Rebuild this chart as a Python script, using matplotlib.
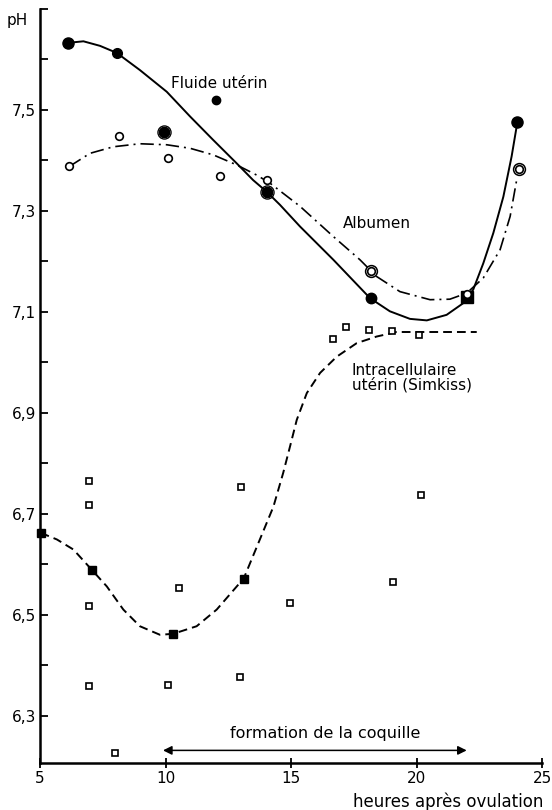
import numpy as np
import matplotlib
matplotlib.use("Agg")
import matplotlib.pyplot as plt

# Fluide utérin (filled circles)
fluide_x = [6.13, 8.06, 9.95, 12.01, 14.03, 18.17, 24.02]
fluide_y = [7.633, 7.613, 7.457, 7.520, 7.338, 7.127, 7.476]
fluide_size = [8, 7, 7.5, 6, 7.5, 7.5, 8]
fluide_ring_x = [9.95, 14.03]
fluide_ring_y = [7.457, 7.338]
fluide_sq_x = [22.02]
fluide_sq_y = [7.130]

# Albumen (open circles)
albumen_x = [6.17, 8.16, 10.09, 12.17, 14.04, 18.17, 22.02, 24.10]
albumen_y = [7.388, 7.449, 7.404, 7.370, 7.361, 7.180, 7.136, 7.383]
albumen_ring_x = [18.17, 24.10]
albumen_ring_y = [7.180, 7.383]

# Intracellulaire utérin (Simkiss)
moyenne_x = [5.03, 7.06, 10.31, 13.13]
moyenne_y = [6.662, 6.589, 6.462, 6.571]
simkiss_x = [6.96, 6.96, 6.96, 6.96, 7.99, 10.09, 10.54, 12.97, 13.0,
             14.97, 16.66, 17.19, 18.10, 19.02, 19.05, 20.09, 20.19]
simkiss_y = [6.764, 6.718, 6.518, 6.358, 6.226, 6.360, 6.553, 6.376, 6.753,
             6.523, 7.047, 7.070, 7.063, 7.061, 6.565, 7.054, 6.737]

# hand-drawn curves
curve_fluide_x = [6.13, 6.73, 7.39, 8.06, 8.98, 10.05, 10.98, 11.89, 12.84, 13.49,
                  14.03, 14.56, 15.36, 16.69, 18.15, 18.94, 19.74, 20.41, 21.20,
                  21.86, 22.26, 22.66, 23.06, 23.46, 23.79, 24.02]
curve_fluide_y = [7.633, 7.636, 7.627, 7.613, 7.579, 7.536, 7.487, 7.441, 7.394, 7.361,
                  7.338, 7.312, 7.269, 7.203, 7.127, 7.101, 7.086, 7.083, 7.094,
                  7.117, 7.144, 7.196, 7.256, 7.328, 7.408, 7.476]
curve_albumen_x = [6.17, 6.99, 7.92, 8.98, 10.05, 10.98, 11.90, 12.84, 13.63, 14.16,
                   15.36, 16.69, 17.75, 18.41, 19.34, 20.54, 21.33, 22.0, 22.66,
                   23.33, 23.73, 23.99]
curve_albumen_y = [7.388, 7.414, 7.427, 7.433, 7.431, 7.424, 7.411, 7.391, 7.371, 7.355,
                   7.309, 7.249, 7.203, 7.170, 7.140, 7.124, 7.125, 7.137, 7.167,
                   7.223, 7.289, 7.361]
curve_simkiss_x = [5.03, 5.67, 6.33, 7.06, 7.66, 8.32, 8.98, 9.78, 10.31, 11.24, 12.04,
                   13.12, 13.76, 14.30, 14.69, 14.96, 15.23, 15.63, 16.16, 16.82,
                   17.62, 18.41, 19.21, 22.40]
curve_simkiss_y = [6.662, 6.649, 6.629, 6.589, 6.556, 6.510, 6.477, 6.460, 6.462, 6.477,
                   6.510, 6.572, 6.649, 6.714, 6.781, 6.833, 6.886, 6.939, 6.979,
                   7.011, 7.038, 7.051, 7.060, 7.060]

arrow_x = [9.9, 22.0]
arrow_y = 6.231

x_ticks = [5, 10, 15, 20, 25]
y_major = [6.3, 6.5, 6.7, 6.9, 7.1, 7.3, 7.5]
y_minor = [6.4, 6.6, 6.8, 7.0, 7.2, 7.4, 7.6, 7.7]

fig = plt.figure(figsize=(5.52, 8.10), dpi=100)
ax = fig.add_axes([40 / 552, 47 / 810, 502 / 552, 754 / 810])
fs = 11

ax.plot(curve_fluide_x, curve_fluide_y, color="black", lw=1.4,
        solid_joinstyle="round")
ax.plot(curve_albumen_x, curve_albumen_y, color="black", lw=1.2,
        dashes=(8, 3, 1.2, 3))
ax.plot(curve_simkiss_x, curve_simkiss_y, color="black", lw=1.4,
        dashes=(4.5, 2.6))

for x, y, s in zip(fluide_x, fluide_y, fluide_size):
    ax.plot(x, y, "o", color="black", ms=s, zorder=4)
ax.plot(fluide_ring_x, fluide_ring_y, "o", mfc="none", mec="black",
        ms=9.5, mew=0.9, zorder=4)
ax.plot(fluide_sq_x, fluide_sq_y, "s", color="black", ms=9, zorder=4)

ax.plot(albumen_x, albumen_y, "o", mfc="white", mec="black",
        ms=5.5, mew=1.2, zorder=5)
ax.plot(albumen_ring_x, albumen_ring_y, "o", mfc="none", mec="black",
        ms=8.5, mew=1.1, zorder=5)

ax.plot(moyenne_x, moyenne_y, "s", color="black", ms=5.5, zorder=4, clip_on=False)
ax.plot(simkiss_x, simkiss_y, "s", mfc="white", mec="black",
        ms=5, mew=1.2, zorder=4)

ax.annotate("", xy=(arrow_x[0], arrow_y), xytext=(arrow_x[1], arrow_y),
            arrowprops=dict(arrowstyle="<|-|>", color="black", lw=1.1,
                            mutation_scale=13, shrinkA=0, shrinkB=0))

ax.text(10.23, 7.544, "Fluide utérin", fontsize=fs, va="baseline")
ax.text(17.07, 7.266, "Albumen", fontsize=fs, va="baseline")
ax.text(17.43, 6.975, "Intracellulaire", fontsize=fs, va="baseline")
ax.text(17.43, 6.946, "utérin (Simkiss)", fontsize=fs, va="baseline")
ax.text(12.57, 6.256, "formation de la coquille", fontsize=11.5, va="baseline")
ax.text(25.04, 6.118, "heures après ovulation", fontsize=12, va="baseline",
        ha="right", clip_on=False)
fig.text(7 / 552, 1 - 25 / 810, "pH", fontsize=fs, va="baseline")

ax.set_xlim(5, 25)
ax.set_ylim(6.206, 7.70)
ax.spines["top"].set_visible(False)
ax.spines["right"].set_visible(False)
ax.spines["left"].set_linewidth(1.8)
ax.spines["bottom"].set_linewidth(1.8)
ax.set_xticks(x_ticks)
ax.set_xticklabels([str(t) for t in x_ticks])
ax.set_yticks(y_major)
ax.set_yticklabels([f"{v:.1f}".replace(".", ",") for v in y_major])
ax.set_yticks(y_minor, minor=True)
ax.tick_params(axis="y", which="both", direction="in", length=6, width=1.3,
               labelsize=fs, pad=3)
ax.tick_params(axis="x", direction="inout", length=7, width=1.3,
               labelsize=fs, pad=2)

fig.savefig("out.png", dpi=100)
